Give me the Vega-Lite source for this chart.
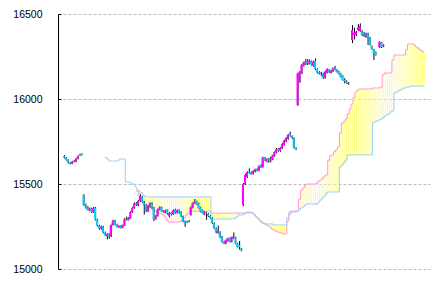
{
  "$schema": "https://vega.github.io/schema/vega-lite/v6.json",
  "width": 372,
  "height": 255,
  "autosize": {"type": "none"},
  "padding": {"left": 58, "top": 14, "right": 4, "bottom": 14},
  "background": "white",
  "config": {
    "view": {"stroke": null},
    "axisY": {
      "domainColor": "black", "domainWidth": 1,
      "tickColor": "black", "tickSize": -3, "tickWidth": 1,
      "gridColor": "#bcbcbc", "gridDash": [3, 2], "gridWidth": 1,
      "labelFont": "Liberation Sans", "labelFontSize": 10.5, "labelColor": "black",
      "labelPadding": 19, "title": null
    }
  },
  "datasets": {
    "candles": [
      {"i":0,"o":15665,"h":15670,"l":15650,"c":15655},
      {"i":1,"o":15655,"h":15658,"l":15638,"c":15642},
      {"i":2,"o":15642,"h":15645,"l":15620,"c":15625},
      {"i":3,"o":15625,"h":15628,"l":15615,"c":15619},
      {"i":4,"o":15620,"h":15636,"l":15617,"c":15632},
      {"i":5,"o":15636,"h":15640,"l":15626,"c":15630},
      {"i":6,"o":15630,"h":15652,"l":15628,"c":15648},
      {"i":7,"o":15648,"h":15668,"l":15645,"c":15662},
      {"i":8,"o":15672,"h":15678,"l":15664,"c":15667},
      {"i":9,"o":15676,"h":15680,"l":15668,"c":15671},
      {"i":10,"o":15435,"h":15440,"l":15372,"c":15380},
      {"i":11,"o":15380,"h":15385,"l":15355,"c":15365},
      {"i":12,"o":15365,"h":15370,"l":15345,"c":15350},
      {"i":13,"o":15345,"h":15362,"l":15340,"c":15356},
      {"i":14,"o":15355,"h":15360,"l":15330,"c":15336},
      {"i":15,"o":15335,"h":15365,"l":15330,"c":15360},
      {"i":16,"o":15360,"h":15365,"l":15285,"c":15290},
      {"i":17,"o":15290,"h":15295,"l":15250,"c":15255},
      {"i":18,"o":15255,"h":15260,"l":15232,"c":15238},
      {"i":19,"o":15238,"h":15255,"l":15232,"c":15250},
      {"i":20,"o":15250,"h":15254,"l":15210,"c":15215},
      {"i":21,"o":15215,"h":15220,"l":15195,"c":15200},
      {"i":22,"o":15195,"h":15210,"l":15175,"c":15205},
      {"i":23,"o":15205,"h":15210,"l":15178,"c":15192},
      {"i":24,"o":15192,"h":15262,"l":15188,"c":15258},
      {"i":25,"o":15258,"h":15290,"l":15255,"c":15282},
      {"i":26,"o":15282,"h":15288,"l":15258,"c":15262},
      {"i":27,"o":15262,"h":15266,"l":15245,"c":15250},
      {"i":28,"o":15246,"h":15258,"l":15240,"c":15254},
      {"i":29,"o":15254,"h":15258,"l":15238,"c":15243},
      {"i":30,"o":15243,"h":15262,"l":15240,"c":15258},
      {"i":31,"o":15258,"h":15300,"l":15254,"c":15294},
      {"i":32,"o":15294,"h":15308,"l":15284,"c":15288},
      {"i":33,"o":15288,"h":15305,"l":15285,"c":15300},
      {"i":34,"o":15298,"h":15340,"l":15295,"c":15335},
      {"i":35,"o":15335,"h":15365,"l":15330,"c":15360},
      {"i":36,"o":15360,"h":15392,"l":15355,"c":15386},
      {"i":37,"o":15386,"h":15392,"l":15370,"c":15375},
      {"i":38,"o":15375,"h":15405,"l":15370,"c":15400},
      {"i":39,"o":15400,"h":15440,"l":15395,"c":15428},
      {"i":40,"o":15425,"h":15430,"l":15390,"c":15395},
      {"i":41,"o":15395,"h":15400,"l":15320,"c":15375},
      {"i":42,"o":15375,"h":15380,"l":15335,"c":15340},
      {"i":43,"o":15340,"h":15375,"l":15335,"c":15370},
      {"i":44,"o":15365,"h":15392,"l":15360,"c":15386},
      {"i":45,"o":15386,"h":15392,"l":15355,"c":15360},
      {"i":46,"o":15360,"h":15365,"l":15282,"c":15290},
      {"i":47,"o":15295,"h":15318,"l":15290,"c":15312},
      {"i":48,"o":15312,"h":15355,"l":15308,"c":15350},
      {"i":49,"o":15348,"h":15368,"l":15344,"c":15362},
      {"i":50,"o":15362,"h":15366,"l":15336,"c":15340},
      {"i":51,"o":15342,"h":15346,"l":15330,"c":15334},
      {"i":52,"o":15332,"h":15350,"l":15328,"c":15346},
      {"i":53,"o":15346,"h":15350,"l":15320,"c":15325},
      {"i":54,"o":15310,"h":15335,"l":15305,"c":15330},
      {"i":55,"o":15330,"h":15334,"l":15315,"c":15320},
      {"i":56,"o":15322,"h":15350,"l":15318,"c":15345},
      {"i":57,"o":15350,"h":15355,"l":15325,"c":15330},
      {"i":58,"o":15330,"h":15350,"l":15326,"c":15346},
      {"i":59,"o":15346,"h":15350,"l":15326,"c":15330},
      {"i":60,"o":15335,"h":15340,"l":15305,"c":15310},
      {"i":61,"o":15310,"h":15314,"l":15276,"c":15280},
      {"i":62,"o":15282,"h":15286,"l":15248,"c":15272},
      {"i":63,"o":15280,"h":15284,"l":15270,"c":15274},
      {"i":64,"o":15284,"h":15288,"l":15274,"c":15278},
      {"i":65,"o":15318,"h":15368,"l":15314,"c":15362},
      {"i":66,"o":15360,"h":15392,"l":15356,"c":15388},
      {"i":67,"o":15386,"h":15412,"l":15382,"c":15398},
      {"i":68,"o":15398,"h":15402,"l":15376,"c":15380},
      {"i":69,"o":15385,"h":15390,"l":15355,"c":15360},
      {"i":70,"o":15362,"h":15366,"l":15332,"c":15336},
      {"i":71,"o":15345,"h":15350,"l":15326,"c":15330},
      {"i":72,"o":15320,"h":15340,"l":15316,"c":15336},
      {"i":73,"o":15332,"h":15336,"l":15290,"c":15326},
      {"i":74,"o":15326,"h":15330,"l":15306,"c":15310},
      {"i":75,"o":15312,"h":15316,"l":15296,"c":15300},
      {"i":76,"o":15300,"h":15304,"l":15265,"c":15270},
      {"i":77,"o":15270,"h":15274,"l":15236,"c":15240},
      {"i":78,"o":15240,"h":15244,"l":15210,"c":15215},
      {"i":79,"o":15212,"h":15255,"l":15208,"c":15226},
      {"i":80,"o":15218,"h":15222,"l":15182,"c":15186},
      {"i":81,"o":15190,"h":15194,"l":15156,"c":15160},
      {"i":82,"o":15160,"h":15164,"l":15146,"c":15150},
      {"i":83,"o":15150,"h":15174,"l":15146,"c":15170},
      {"i":84,"o":15165,"h":15184,"l":15160,"c":15180},
      {"i":85,"o":15182,"h":15186,"l":15156,"c":15160},
      {"i":86,"o":15160,"h":15190,"l":15156,"c":15186},
      {"i":87,"o":15180,"h":15215,"l":15176,"c":15192},
      {"i":88,"o":15186,"h":15190,"l":15146,"c":15150},
      {"i":89,"o":15150,"h":15154,"l":15126,"c":15130},
      {"i":90,"o":15140,"h":15165,"l":15114,"c":15130},
      {"i":91,"o":15120,"h":15124,"l":15104,"c":15108},
      {"i":92,"o":15376,"h":15505,"l":15370,"c":15500},
      {"i":93,"o":15500,"h":15560,"l":15495,"c":15553},
      {"i":94,"o":15540,"h":15575,"l":15536,"c":15570},
      {"i":95,"o":15575,"h":15592,"l":15560,"c":15565},
      {"i":96,"o":15570,"h":15574,"l":15555,"c":15560},
      {"i":97,"o":15560,"h":15580,"l":15556,"c":15575},
      {"i":98,"o":15572,"h":15590,"l":15568,"c":15586},
      {"i":99,"o":15588,"h":15592,"l":15574,"c":15578},
      {"i":100,"o":15580,"h":15610,"l":15576,"c":15605},
      {"i":101,"o":15612,"h":15616,"l":15594,"c":15598},
      {"i":102,"o":15600,"h":15660,"l":15596,"c":15655},
      {"i":103,"o":15655,"h":15659,"l":15636,"c":15640},
      {"i":104,"o":15632,"h":15652,"l":15628,"c":15648},
      {"i":105,"o":15650,"h":15654,"l":15625,"c":15638},
      {"i":106,"o":15640,"h":15660,"l":15628,"c":15648},
      {"i":107,"o":15645,"h":15672,"l":15640,"c":15668},
      {"i":108,"o":15665,"h":15692,"l":15660,"c":15688},
      {"i":109,"o":15685,"h":15712,"l":15680,"c":15706},
      {"i":110,"o":15706,"h":15710,"l":15690,"c":15695},
      {"i":111,"o":15695,"h":15716,"l":15690,"c":15712},
      {"i":112,"o":15710,"h":15740,"l":15705,"c":15735},
      {"i":113,"o":15730,"h":15760,"l":15726,"c":15755},
      {"i":114,"o":15750,"h":15775,"l":15746,"c":15770},
      {"i":115,"o":15765,"h":15795,"l":15760,"c":15790},
      {"i":116,"o":15795,"h":15808,"l":15778,"c":15782},
      {"i":117,"o":15782,"h":15786,"l":15765,"c":15770},
      {"i":118,"o":15770,"h":15774,"l":15708,"c":15712},
      {"i":119,"o":15712,"h":15716,"l":15700,"c":15706},
      {"i":120,"o":15965,"h":16155,"l":15960,"c":16150},
      {"i":121,"o":16100,"h":16165,"l":16095,"c":16160},
      {"i":122,"o":16150,"h":16205,"l":16146,"c":16200},
      {"i":123,"o":16195,"h":16220,"l":16190,"c":16215},
      {"i":124,"o":16205,"h":16235,"l":16200,"c":16220},
      {"i":125,"o":16220,"h":16235,"l":16200,"c":16212},
      {"i":126,"o":16208,"h":16232,"l":16204,"c":16220},
      {"i":127,"o":16220,"h":16226,"l":16196,"c":16200},
      {"i":128,"o":16195,"h":16225,"l":16190,"c":16220},
      {"i":129,"o":16225,"h":16238,"l":16170,"c":16175},
      {"i":130,"o":16175,"h":16180,"l":16150,"c":16155},
      {"i":131,"o":16160,"h":16164,"l":16145,"c":16150},
      {"i":132,"o":16148,"h":16160,"l":16135,"c":16155},
      {"i":133,"o":16150,"h":16154,"l":16118,"c":16122},
      {"i":134,"o":16125,"h":16165,"l":16120,"c":16160},
      {"i":135,"o":16155,"h":16180,"l":16150,"c":16175},
      {"i":136,"o":16172,"h":16176,"l":16154,"c":16158},
      {"i":137,"o":16155,"h":16170,"l":16150,"c":16165},
      {"i":138,"o":16162,"h":16185,"l":16158,"c":16180},
      {"i":139,"o":16180,"h":16195,"l":16168,"c":16172},
      {"i":140,"o":16172,"h":16176,"l":16156,"c":16160},
      {"i":141,"o":16162,"h":16166,"l":16144,"c":16148},
      {"i":142,"o":16150,"h":16154,"l":16126,"c":16130},
      {"i":143,"o":16135,"h":16140,"l":16108,"c":16112},
      {"i":144,"o":16112,"h":16122,"l":16092,"c":16105},
      {"i":145,"o":16105,"h":16110,"l":16090,"c":16095},
      {"i":146,"o":16088,"h":16100,"l":16084,"c":16095},
      {"i":148,"o":16347,"h":16435,"l":16329,"c":16406},
      {"i":149,"o":16376,"h":16420,"l":16350,"c":16390},
      {"i":150,"o":16376,"h":16400,"l":16370,"c":16394},
      {"i":151,"o":16406,"h":16440,"l":16400,"c":16420},
      {"i":152,"o":16400,"h":16445,"l":16395,"c":16430},
      {"i":153,"o":16400,"h":16405,"l":16370,"c":16376},
      {"i":154,"o":16390,"h":16395,"l":16365,"c":16370},
      {"i":155,"o":16365,"h":16390,"l":16360,"c":16385},
      {"i":156,"o":16385,"h":16390,"l":16318,"c":16360},
      {"i":157,"o":16360,"h":16365,"l":16315,"c":16320},
      {"i":158,"o":16310,"h":16315,"l":16290,"c":16295},
      {"i":159,"o":16290,"h":16295,"l":16230,"c":16270},
      {"i":160,"o":16276,"h":16280,"l":16255,"c":16260},
      {"i":162,"o":16306,"h":16340,"l":16300,"c":16335},
      {"i":163,"o":16330,"h":16335,"l":16300,"c":16306},
      {"i":164,"o":16310,"h":16322,"l":16305,"c":16318}
    ],
    "cloud": [
      {"i":21,"b":15659},{"i":22,"b":15653},{"i":23,"b":15641},{"i":24,"b":15635},{"i":25,"b":15635},
      {"i":26,"b":15635},{"i":27,"b":15635},{"i":28,"b":15640},{"i":29,"b":15647},{"i":30,"b":15647},
      {"i":31,"b":15647},{"i":32,"b":15512},{"i":33,"b":15512},{"i":34,"b":15510},{"i":35,"b":15500},
      {"i":36,"b":15500},{"i":37,"b":15482},
      {"i":38,"a":15465,"b":15455},{"i":39,"a":15424,"b":15453},{"i":40,"a":15410,"b":15450},
      {"i":41,"a":15394,"b":15435},{"i":42,"a":15382,"b":15424},{"i":43,"a":15370,"b":15424},
      {"i":44,"a":15365,"b":15424},{"i":45,"a":15359,"b":15424},{"i":46,"a":15347,"b":15424},
      {"i":47,"a":15341,"b":15424},{"i":48,"a":15335,"b":15424},{"i":49,"a":15329,"b":15424},
      {"i":50,"a":15324,"b":15424},{"i":51,"a":15318,"b":15424},{"i":52,"a":15306,"b":15424},
      {"i":53,"a":15288,"b":15424},{"i":54,"a":15276,"b":15424},{"i":55,"a":15276,"b":15424},
      {"i":56,"a":15276,"b":15424},{"i":57,"a":15276,"b":15424},{"i":58,"a":15276,"b":15424},
      {"i":59,"a":15276,"b":15424},{"i":60,"a":15280,"b":15424},{"i":61,"a":15288,"b":15424},
      {"i":62,"a":15300,"b":15424},{"i":63,"a":15318,"b":15424},{"i":64,"a":15329,"b":15424},
      {"i":65,"a":15340,"b":15424},{"i":66,"a":15340,"b":15424},{"i":67,"a":15340,"b":15424},
      {"i":68,"a":15340,"b":15424},{"i":69,"a":15340,"b":15424},{"i":70,"a":15340,"b":15424},
      {"i":71,"a":15340,"b":15424},{"i":72,"a":15340,"b":15424},{"i":73,"a":15340,"b":15424},
      {"i":74,"a":15340,"b":15424},{"i":75,"a":15340,"b":15424},
      {"i":76,"a":15329,"b":15294},{"i":77,"a":15329,"b":15294},{"i":78,"a":15329,"b":15294},
      {"i":79,"a":15329,"b":15294},{"i":80,"a":15329,"b":15294},{"i":81,"a":15329,"b":15294},
      {"i":82,"a":15329,"b":15294},{"i":83,"a":15329,"b":15294},{"i":84,"a":15329,"b":15294},
      {"i":85,"a":15329,"b":15294},{"i":86,"a":15329,"b":15294},{"i":87,"a":15329,"b":15294},
      {"i":88,"a":15329,"b":15300},{"i":89,"a":15329,"b":15306},{"i":90,"a":15329,"b":15318},
      {"i":91,"a":15329,"b":15318},{"i":92,"a":15329,"b":15318},{"i":93,"a":15329,"b":15329},
      {"i":94,"a":15335,"b":15329},{"i":95,"a":15335,"b":15329},{"i":96,"a":15335,"b":15329},
      {"i":97,"a":15329,"b":15329},{"i":98,"a":15318,"b":15318},{"i":99,"a":15306,"b":15306},
      {"i":100,"a":15294,"b":15294},{"i":101,"a":15282,"b":15282},{"i":102,"a":15276,"b":15270},
      {"i":103,"a":15270,"b":15265},{"i":104,"a":15259,"b":15265},{"i":105,"a":15253,"b":15265},
      {"i":106,"a":15247,"b":15265},{"i":107,"a":15235,"b":15265},{"i":108,"a":15229,"b":15259},
      {"i":109,"a":15224,"b":15259},{"i":110,"a":15218,"b":15259},{"i":111,"a":15212,"b":15259},
      {"i":112,"a":15212,"b":15259},{"i":113,"a":15206,"b":15259},{"i":114,"a":15206,"b":15259},
      {"i":115,"a":15282,"b":15300},{"i":116,"a":15320,"b":15335},{"i":117,"a":15335,"b":15341},
      {"i":118,"a":15335,"b":15341},{"i":119,"a":15335,"b":15341},{"i":120,"a":15340,"b":15341},
      {"i":121,"a":15410,"b":15347},{"i":122,"a":15465,"b":15359},{"i":123,"a":15476,"b":15365},
      {"i":124,"a":15494,"b":15376},{"i":125,"a":15500,"b":15382},{"i":126,"a":15500,"b":15382},
      {"i":127,"a":15500,"b":15382},{"i":128,"a":15500,"b":15382},{"i":129,"a":15500,"b":15382},
      {"i":130,"a":15506,"b":15382},{"i":131,"a":15518,"b":15394},{"i":132,"a":15524,"b":15406},
      {"i":133,"a":15535,"b":15418},{"i":134,"a":15547,"b":15430},{"i":135,"a":15553,"b":15447},
      {"i":136,"a":15640,"b":15453},{"i":137,"a":15665,"b":15453},{"i":138,"a":15671,"b":15453},
      {"i":139,"a":15690,"b":15453},{"i":140,"a":15700,"b":15453},{"i":141,"a":15718,"b":15453},
      {"i":142,"a":15800,"b":15600},{"i":143,"a":15859,"b":15612},{"i":144,"a":15865,"b":15624},
      {"i":145,"a":15882,"b":15641},{"i":146,"a":15912,"b":15671},{"i":147,"a":15940,"b":15671},
      {"i":148,"a":15970,"b":15671},{"i":149,"a":16010,"b":15671},{"i":150,"a":16041,"b":15671},
      {"i":151,"a":16053,"b":15671},{"i":152,"a":16059,"b":15671},{"i":153,"a":16059,"b":15671},
      {"i":154,"a":16059,"b":15671},{"i":155,"a":16059,"b":15671},{"i":156,"a":16059,"b":15671},
      {"i":157,"a":16059,"b":15671},{"i":158,"a":16059,"b":15671},{"i":159,"a":16065,"b":15859},
      {"i":160,"a":16065,"b":15865},{"i":161,"a":16065,"b":15870},{"i":162,"a":16065,"b":15876},
      {"i":163,"a":16070,"b":15882},{"i":164,"a":16141,"b":15888},{"i":165,"a":16153,"b":15900},
      {"i":166,"a":16153,"b":15906},{"i":167,"a":16153,"b":15912},{"i":168,"a":16153,"b":15924},
      {"i":169,"a":16230,"b":15930},{"i":170,"a":16259,"b":16035},{"i":171,"a":16259,"b":16041},
      {"i":172,"a":16259,"b":16047},{"i":173,"a":16259,"b":16053},{"i":174,"a":16259,"b":16059},
      {"i":175,"a":16259,"b":16065},{"i":176,"a":16290,"b":16070},{"i":177,"a":16324,"b":16070},
      {"i":178,"a":16324,"b":16073},{"i":179,"a":16324,"b":16076},{"i":180,"a":16318,"b":16076},
      {"i":181,"a":16306,"b":16076},{"i":182,"a":16300,"b":16076},{"i":183,"a":16288,"b":16076},
      {"i":184,"a":16282,"b":16076},{"i":185,"a":16276,"b":16076}
    ]
  },
  "layer": [
    {
      "data": {"name": "cloud"},
      "transform": [{"filter": "isValid(datum.a) && isValid(datum.b)"}],
      "mark": {"type": "rule", "color": "#ffff88", "strokeWidth": 1, "xOffset": 0.5},
      "encoding": {
        "x": {"field": "i", "type": "quantitative", "scale": {"domain": [-0.5, 185.5], "nice": false, "zero": false}, "axis": null},
        "y": {"field": "a", "type": "quantitative", "scale": {"domain": [15000, 16500], "nice": false, "zero": false},
              "axis": {"title": null, "values": [15000, 15500, 16000, 16500], "format": "d"}},
        "y2": {"field": "b"}
      }
    },
    {
      "data": {"name": "cloud"},
      "transform": [{"filter": "isValid(datum.a)"}],
      "mark": {"type": "line", "color": "#ff99cc", "strokeWidth": 1, "interpolate": "step"},
      "encoding": {
        "x": {"field": "i", "type": "quantitative"},
        "y": {"field": "a", "type": "quantitative", "title": null}
      }
    },
    {
      "data": {"name": "cloud"},
      "mark": {"type": "line", "color": "#99ccff", "strokeWidth": 1, "interpolate": "step"},
      "encoding": {
        "x": {"field": "i", "type": "quantitative"},
        "y": {"field": "b", "type": "quantitative", "title": null}
      }
    },
    {
      "data": {"name": "candles"},
      "mark": {"type": "rule", "color": "black", "strokeWidth": 1, "xOffset": 0.5},
      "encoding": {
        "x": {"field": "i", "type": "quantitative"},
        "y": {"field": "l", "type": "quantitative", "title": null},
        "y2": {"field": "h"}
      }
    },
    {
      "data": {"name": "candles"},
      "mark": {"type": "bar", "size": 2},
      "encoding": {
        "x": {"field": "i", "type": "quantitative"},
        "y": {"field": "o", "type": "quantitative", "title": null},
        "y2": {"field": "c"},
        "color": {"condition": {"test": "datum.c >= datum.o", "value": "#ff00ff"}, "value": "#00ccff"}
      }
    }
  ]
}
